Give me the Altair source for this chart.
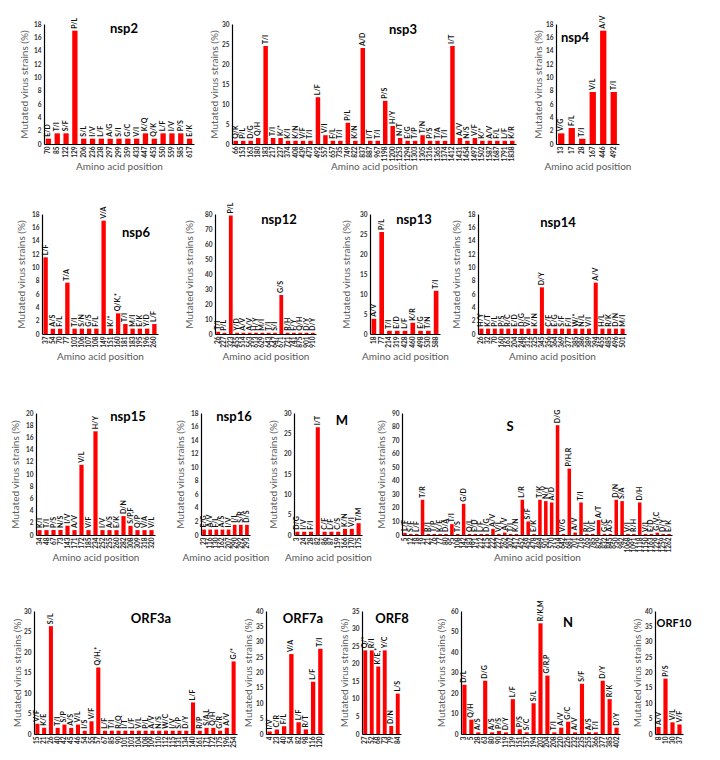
import altair as alt
import pandas as pd

FONT = "Lato"
RED = "#FF0000"

# ---------------- data ----------------
nsp2_pos = [70, 85, 122, 129, 206, 236, 238, 297, 299, 359, 433, 447, 453, 550, 559, 585, 617]
nsp2_mut = ["E/D", "T/I", "S/F", "P/L", "S/L", "I/V", "L/F", "A/G", "S/I", "G/C", "V/I", "K/Q", "Q/K", "L/F", "I/V", "P/S", "E/K"]
nsp2_pct = [0.8, 1.6, 1.6, 17, 0.8, 0.8, 0.8, 0.8, 0.8, 0.8, 0.8, 1.6, 0.8, 1.6, 1.6, 1.6, 0.8]

nsp3_pos = [66, 153, 163, 180, 183, 217, 237, 374, 408, 439, 473, 492, 557, 657, 735, 749, 822, 837, 887, 967,
            1198, 1200, 1253, 1294, 1303, 1305, 1316, 1365, 1374, 1412, 1431, 1454, 1497, 1502, 1587, 1687, 1791, 1838]
nsp3_mut = ["Q/K", "P/L", "D/G", "Q/H", "T/I", "T/I", "K/*", "K/I", "K/N", "V/F", "T/I", "L/F", "V/I", "F/L", "T/I",
            "P/L", "K/N", "A/D", "I/T", "T/I", "P/S", "H/Y", "N/T", "E/G", "T/P", "T/N", "P/S", "T/A", "T/I", "I/T",
            "A/V", "N/S", "V/F", "K/*", "A/V", "F/L", "L/F", "K/R"]
nsp3_pct = [0.8, 0.8, 0.8, 1.5, 24.5, 1.5, 1.5, 0.8, 0.8, 0.8, 0.8, 11.7, 2.2, 0.8, 0.8, 5.3, 0.8, 24, 0.8, 0.8,
            10.8, 4.5, 1.5, 0.8, 0.8, 2.2, 0.8, 0.8, 0.8, 24.5, 1.5, 0.8, 1.5, 0.8, 0.8, 0.8, 0.8, 0.8]

nsp4_pos = [13, 17, 28, 167, 446, 492]
nsp4_mut = ["V/G", "F/L", "T/I", "V/L", "A/V", "T/I"]
nsp4_pct = [1.6, 2.4, 0.8, 7.8, 17, 7.8]

nsp6_pos = [37, 54, 70, 77, 103, 106, 107, 108, 149, 151, 160, 181, 183, 195, 196, 260]
nsp6_mut = ["L/F", "A/S", "F/L", "T/A", "T/I", "S/N", "G/S", "F/L", "V/A", "K/*", "Q/K,*", "T/I", "M/I", "E/K", "Y/D", "L/F"]
nsp6_pct = [11.5, 0.8, 0.8, 7.7, 0.8, 0.8, 0.8, 0.8, 17, 0.8, 3.1, 1.5, 0.8, 0.8, 0.8, 1.5]

nsp12_pos = [26, 227, 323, 455, 514, 563, 613, 629, 643, 647, 671, 721, 741, 875, 901, 910]
nsp12_mut = ["T/I", "P/L", "P/L", "Y/D", "A/V", "A/V", "H/Y", "M/I", "T/I", "S/I", "G/S", "R/H", "F/Y", "Q/H", "D/Y", "D/Y"]
nsp12_pct = [1.5, 0.8, 79, 0.8, 0.8, 0.8, 0.8, 0.8, 0.8, 0.8, 26, 0.8, 0.8, 0.8, 0.8, 0.8]

nsp13_pos = [18, 77, 214, 319, 428, 460, 498, 530, 588]
nsp13_mut = ["A/V", "P/L", "T/I", "E/D", "L/F", "K/R", "E/G", "T/N", "T/I"]
nsp13_pct = [3.8, 25.5, 0.8, 0.8, 0.8, 2.8, 0.8, 0.8, 10.8]

nsp14_pos = [26, 32, 70, 160, 163, 204, 248, 312, 325, 345, 356, 364, 369, 377, 385, 386, 389, 394, 455, 485, 496, 501]
nsp14_mut = ["H/Y", "K/T", "P/L", "P/S", "R/C", "E/D", "D/G", "V/I", "K/N", "D/Y", "C/F", "E/G", "S/F", "F/I",
             "W/*", "N/L", "V/I", "A/V", "H/L", "R/K", "D/N", "M/I"]
nsp14_pct = [0.8, 0.8, 0.8, 0.8, 0.8, 0.8, 0.8, 0.8, 0.8, 7.0, 0.8, 0.8, 0.8, 0.8, 0.8, 0.8, 0.8, 7.7, 0.8, 0.8, 0.8, 0.8]

nsp15_pos = [34, 48, 67, 73, 143, 171, 172, 185, 234, 252, 255, 260, 282, 308, 309, 318, 320]
nsp15_mut = ["K/I", "T/I", "P/S", "N/S", "I/V", "A/V", "V/L", "V/F", "H/Y", "I/V", "A/S", "E/K", "D/N", "S/P,F", "Q/P", "V/A", "V/L"]
nsp15_pct = [0.8, 0.8, 0.8, 0.8, 1.5, 0.8, 11.5, 0.8, 17, 0.8, 0.8, 0.8, 3.1, 1.5, 0.8, 0.8, 0.8]

nsp16_pos = [23, 116, 130, 162, 207, 290, 292, 293]
nsp16_mut = ["E/G", "A/V", "F/L", "A/S", "I/V", "I/L", "S/R", "D/S"]
nsp16_pct = [0.8, 0.8, 0.8, 0.8, 0.8, 1.5, 1.5, 1.5]

M_pos = [3, 24, 28, 82, 86, 87, 159, 166, 170, 175]
M_mut = ["D/G", "I/V", "F/I", "I/T", "C/F", "L/F", "C/S", "K/N", "V/I", "T/M"]
M_pct = [0.8, 0.8, 0.8, 26.5, 0.8, 0.8, 0.8, 1.5, 1.5, 2.9]

S_pos = [5, 12, 18, 19, 21, 76, 77, 80, 95, 108, 142, 183, 191, 212, 215, 222, 227, 262, 307, 417,
         452, 459, 478, 484, 501, 570, 614, 642, 681, 701, 716, 765, 785, 829, 832, 845, 950, 982, 1068, 1091,
         1118, 1150, 1163, 1229, 1259, 1262]
S_mut = ["L/F", "S/F", "L/F", "T/R", "R/I", "T/P", "K/E", "D/A", "T/I", "T/S", "G/D", "Q/L", "E/D", "L/F", "D/G",
         "A/V", "V/L", "A/V", "T/I", "K/N", "L/R", "S/F", "E/K", "T/K", "N/Y", "A/D", "D/G", "V/G", "P/H,R", "A/V",
         "T/I", "R/L", "V/L", "A/T", "G/C", "A/S", "D/N", "S/A", "V/I", "R/H", "D/H", "V/L", "E/D", "G/V,C", "D/Y", "E/K"]
S_pct = [1.5, 0.8, 0.8, 26, 0.8, 0.8, 0.8, 0.8, 8, 0.8, 23, 0.8, 0.8, 0.8, 0.8, 4.5, 0.8, 1.8, 0.8, 0.8,
         26, 10, 0.8, 26, 25, 24, 81, 0.8, 49, 1.8, 24, 0.8, 0.8, 11, 0.8, 0.8, 26, 25, 0.8, 0.8,
         24, 0.8, 0.8, 1.6, 0.8, 0.8]

ORF3a_pos = [15, 21, 26, 40, 42, 45, 46, 54, 55, 57, 67, 85, 90, 101, 103, 104, 108, 109, 110, 112,
             115, 131, 134, 140, 161, 171, 172, 175, 196, 254]
ORF3a_mut = ["V/F", "K/E", "S/L", "T/I", "S/P", "A/S", "V/L", "I/S", "V/F", "Q/H,*", "L/F", "T/I", "R/Q", "I/T",
             "L/F", "V/L", "P/L", "A/V", "N/S", "W/C", "I/V", "S/P", "D/Y", "L/F", "R/P", "S/A,L", "Q/H", "G/R", "A/V", "G/*"]
ORF3a_pct = [2.5, 1.5, 26.3, 1.5, 2.3, 1.5, 2.3, 0.8, 3.1, 16.2, 0.8, 0.8, 0.8, 0.8, 0.8, 0.8, 0.8, 0.8, 0.8, 0.8,
             0.8, 0.8, 0.8, 7.7, 0.8, 1.5, 1.5, 0.8, 1.5, 17.7]

ORF7a_pos = [4, 23, 40, 54, 82, 98, 116, 120]
ORF7a_mut = ["I/V", "C/R", "F/L", "V/A", "L/F", "R/T", "L/F", "T/I"]
ORF7a_pct = [0.8, 1.5, 2.5, 26, 3.8, 1.5, 17, 27.7]

ORF8_pos = [27, 52, 68, 73, 79, 84]
ORF8_mut = ["Q/*", "R/I", "K/E,*", "Y/C", "D/N", "L/S"]
ORF8_pct = [23.8, 23.8, 19.2, 23.8, 2.3, 11.5]

N_pos = [3, 5, 28, 63, 80, 90, 119, 139, 151, 157, 194, 203, 204, 208, 220, 226, 232, 235, 255, 366, 377, 385, 402]
N_mut = ["D/L", "Q/H", "A/S", "D/G", "A/S", "P/S", "D/Y", "L/F", "P/S", "S/C", "S/L", "R/K,M", "G/R,P", "T/I",
         "A/V", "G/C", "A/V", "S/F", "A/S", "T/I", "D/Y", "R/K", "D/Y"]
N_pct = [24, 7, 0.8, 26, 0.8, 1.5, 0.8, 17, 2.3, 0.8, 15, 54, 28.5, 0.8, 3.1, 6, 0.8, 24.5, 0.8, 0.8, 26, 17, 3.1]

ORF10_pos = [8, 10, 30, 37]
ORF10_mut = ["A/V", "P/S", "V/L", "V/F"]
ORF10_pct = [2.3, 18, 3.8, 3.1]


# ---------------- helpers ----------------
def panel(name, pos, mut, pct, ymax, ystep, w, h, tx, ty, tsize=13, xtitle=True, ytx=-19):
    df = pd.DataFrame({"pos": [str(p) for p in pos], "mut": mut, "pct": pct})
    xaxis_kw = dict(labelAngle=270, labelFontSize=6.5, labelFontWeight="bold", labelColor="#222222",
                    labelFont=FONT, labelPadding=2, labelOverlap=False, ticks=False,
                    domainColor="black", domainWidth=1.2)
    if xtitle:
        xaxis_kw.update(title="Amino acid position", titleFont=FONT, titleFontSize=10,
                        titleFontWeight="normal", titleColor="#595959", titleY=17, titleBaseline="top")
    else:
        xaxis_kw.update(title=None)
    x = alt.X("pos:N", sort=None, scale=alt.Scale(paddingInner=0.4, paddingOuter=0.2),
              axis=alt.Axis(**xaxis_kw))
    y = alt.Y("pct:Q", scale=alt.Scale(domain=[0, ymax], nice=False),
              axis=alt.Axis(values=list(range(0, ymax + 1, ystep)), grid=False, ticks=False,
                            labelFontSize=6.5, labelFontWeight="bold", labelColor="#333333", labelFont=FONT,
                            labelPadding=3, domainColor="black", domainWidth=1.2,
                            title="Mutated virus strains (%)", titleFont=FONT, titleFontSize=10,
                            titleFontWeight="normal", titleColor="#595959",
                            titleX=ytx, titleY=h / 2, titleBaseline="middle", titleAngle=270, titleAlign="center"))
    base = alt.Chart(df)
    bars = base.mark_bar(color=RED).encode(x=x, y=y)
    labels = base.mark_text(angle=270, align="left", baseline="middle", dx=2, fontSize=7,
                            fontWeight="bold", font=FONT, color="#111111").encode(x=x, y=y, text="mut:N")
    ttl = alt.Chart(pd.DataFrame({"t": [name]})).mark_text(
        fontSize=tsize, fontWeight="bold", font=FONT, align="center", baseline="middle", color="black"
    ).encode(x=alt.value(tx), y=alt.value(ty), text="t:N")
    return alt.layer(bars, labels, ttl).properties(width=w, height=h)


def spacer(w, h):
    return alt.Chart(pd.DataFrame({"a": [0]})).mark_point(opacity=0, size=1).encode(
        x=alt.value(0), y=alt.value(0)).properties(width=w, height=h)


def lead(w, h):
    # invisible frame that fixes the vertical extent of a row (12 px above, 30 px below the plots)
    d = pd.DataFrame({"a": [0]})
    top = alt.Chart(d).mark_point(opacity=0, size=1).encode(x=alt.value(0), y=alt.value(-12))
    bot = alt.Chart(d).mark_point(opacity=0, size=1).encode(x=alt.value(0), y=alt.value(h + 30))
    return alt.layer(top, bot).properties(width=w, height=h)


def row(items):
    return alt.hconcat(*items, spacing=0, bounds="flush")


H1, H2, H3, H4 = 120, 120, 122, 123

row1 = row([
    lead(35, H1),
    panel("nsp2", nsp2_pos, nsp2_mut, nsp2_pct, 18, 2, 150, H1, 80, 5, ytx=-20),
    spacer(38, 10),
    panel("nsp3", nsp3_pos, nsp3_mut, nsp3_pct, 30, 5, 284, H1, 171, 6, ytx=-18),
    spacer(40, 10),
    panel("nsp4", nsp4_pos, nsp4_mut, nsp4_pct, 18, 2, 63, H1, 19, 14, ytx=-18),
])

row2 = row([
    lead(33, H2),
    panel("nsp6", nsp6_pos, nsp6_mut, nsp6_pct, 18, 2, 116, H2, 94, 19, ytx=-21),
    spacer(57, 10),
    panel("nsp12", nsp12_pos, nsp12_mut, nsp12_pct, 80, 10, 101, H2, 64, 6, ytx=-26),
    spacer(54, 10),
    panel("nsp13", nsp13_pos, nsp13_mut, nsp13_pct, 30, 5, 70, H2, 44, 6, ytx=-24),
    spacer(38, 10),
    panel("nsp14", nsp14_pos, nsp14_mut, nsp14_pct, 18, 2, 148, H2, 80, 9, ytx=-22),
])

row3 = row([
    lead(27, H3),
    panel("nsp15", nsp15_pos, nsp15_mut, nsp15_pct, 20, 2, 119, H3, 92, 4, ytx=-21),
    spacer(46, 10),
    panel("nsp16", nsp16_pos, nsp16_mut, nsp16_pct, 18, 2, 49, H3, 33, 4, ytx=-21),
    spacer(44, 10),
    panel("M", M_pos, M_mut, M_pct, 30, 5, 68, H3, 48, 8, ytx=-21),
    spacer(40, 10),
    panel("S", S_pos, S_mut, S_pct, 90, 10, 270, H3, 108, 14, ytx=-21),
])

row4 = row([
    lead(25, H4),
    panel("ORF3a", ORF3a_pos, ORF3a_mut, ORF3a_pct, 30, 5, 203, H4, 117, 8, xtitle=False, ytx=-17),
    spacer(29, 10),
    panel("ORF7a", ORF7a_pos, ORF7a_mut, ORF7a_pct, 40, 5, 58, H4, 37, 8, xtitle=False, ytx=-18),
    spacer(38, 10),
    panel("ORF8", ORF8_pos, ORF8_mut, ORF8_pct, 35, 5, 39, H4, 30, 8, xtitle=False, ytx=-18),
    spacer(60, 10),
    panel("N", N_pos, N_mut, N_pct, 60, 10, 159, H4, 107, 12, xtitle=False, ytx=-20),
    spacer(35, 10),
    panel("ORF10", ORF10_pos, ORF10_mut, ORF10_pct, 40, 5, 28, H4, 19, 13, tsize=11, xtitle=False, ytx=-18),
])

chart = alt.vconcat(
    row1, spacer(1, 25), row2, spacer(1, 34), row3, spacer(1, 31), row4, spacing=0
).properties(
    padding={"left": 0, "top": 3, "right": 0, "bottom": 0},
    background="white",
).configure_view(stroke="transparent", strokeWidth=0)

chart.save("out.html", embed_options={"renderer": "svg", "actions": False})
